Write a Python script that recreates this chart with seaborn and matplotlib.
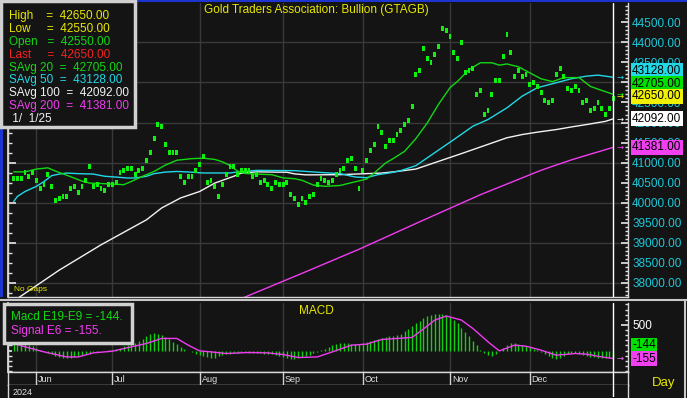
import numpy as np
import pandas as pd
import matplotlib
matplotlib.use("Agg")
import matplotlib.pyplot as plt
from matplotlib.patches import Rectangle
from matplotlib.lines import Line2D
from matplotlib.ticker import MultipleLocator, FixedLocator, FormatStrFormatter, NullFormatter
from matplotlib.transforms import blended_transform_factory
import seaborn as sns

# ---- values ----
dates = pd.bdate_range("2024-05-24", "2025-01-01")   # one bar per weekday, no gaps

price = [40600, 40600, 40600, 40750, 40650, 40750, 40550, 40350, 40450, 40700,
         40400, 40050, 40100, 40150, 40150, 40350, 40400, 40250, 40400, 40550,
         40900, 40400, 40450, 40350, 40300, 40450, 40450, 40500, 40750, 40800,
         40850, 40850, 40700, 40800, 40850, 41050, 41250, 41600, 41950, 41900,
         41450, 41250, 41250, 41250, 40650, 40500, 40650, 40650, 40800, 40950,
         41150, 40500, 40550, 40400, 40150, 40450, 40700, 40900, 40900, 40700,
         40800, 40800, 40800, 40650, 40700, 40500, 40550, 40450, 40350, 40500,
         40450, 40450, 40500, 40200, 40100, 39950, 40100, 40000, 40150, 40200,
         40450, 40600, 40550, 40500, 40550, 40700, 40800, 40850, 41050, 41100,
         40850, 40350, 40800, 41050, 41300, 41450, 41900, 41750, 41400, 41550,
         41550, 41700, 41800, 41950, 42050, 42400, 43200, 43300, 43850, 43600,
         43500, 43700, 43900, 44350, 44300, 44150, 43750, 43600, 44000, 43250,
         43300, 43350, 42700, 42800, 42200, 42300, 42700, 43050, 43050, 43650,
         44200, 43750, 43150, 43300, 43150, 43200, 42950, 43000, 42900, 42750,
         42550, 42500, 42550, 43200, 43350, 43150, 42850, 42800, 42900, 42800,
         42500, 42550, 42300, 42350, 42500, 42350, 42200, 42350, 42600]

sma20_at = [0, 3, 6, 9, 11, 13, 15, 18, 20, 24, 29, 31, 34, 37, 40, 43, 47, 50, 53, 55,
            57, 59, 61, 64, 68, 71, 74, 76, 79, 82, 86, 89, 93, 95, 98, 100, 103, 106, 109, 112,
            115, 117, 120, 123, 126, 128, 130, 133, 136, 139, 142, 145, 149, 152, 155, 158]
sma20 = [40770, 40770, 40840, 40870, 40790, 40720, 40650, 40540, 40490, 40475,
         40450, 40530, 40660, 40780, 40940, 41060, 41100, 41110, 41080, 41020,
         40930, 40790, 40730, 40715, 40700, 40620, 40600, 40560, 40440, 40410,
         40430, 40500, 40590, 40740, 40990, 41100, 41280, 41600, 41990, 42460,
         42870, 43030, 43320, 43490, 43490, 43430, 43460, 43390, 43240, 43090,
         43020, 43120, 43120, 42900, 42800, 42705]

sma50_at = [0, 1, 3, 6, 8, 10, 12, 14, 17, 21, 24, 27, 30, 32, 35, 37, 40, 43, 46, 50,
            53, 57, 59, 64, 74, 79, 86, 90, 93, 96, 99, 102, 106, 111, 116, 121, 125, 130, 134, 138,
            143, 147, 151, 154, 157, 158]
sma50 = [40030, 40160, 40280, 40410, 40530, 40675, 40715, 40740, 40725, 40715,
         40660, 40640, 40617, 40617, 40660, 40725, 40765, 40780, 40767, 40742,
         40742, 40742, 40767, 40807, 40800, 40767, 40725, 40642, 40625, 40700,
         40742, 40800, 40925, 41250, 41575, 41907, 42075, 42367, 42657, 42867,
         42992, 43092, 43157, 43182, 43142, 43128]

sma100_at = [0, 12, 23, 35, 39, 44, 49, 53, 58, 60, 64, 72, 74, 77, 86, 97, 101, 106, 118, 130,
             134, 138, 143, 147, 151, 156, 158]
sma100 = [37550, 38320, 38950, 39575, 39870, 40120, 40280, 40490, 40660, 40740,
          40770, 40760, 40720, 40695, 40700, 40740, 40780, 40840, 41225, 41620,
          41700, 41760, 41825, 41890, 41950, 42030, 42092]

sma200_at = [55, 61, 76, 91, 107, 123, 139, 147, 158]
sma200 = [37410, 37650, 38240, 38840, 39525, 40200, 40810, 41070, 41381]

macd_hist = [160, 150, 140, 120, 100, 80, 50, 20, -10, -40,
             -70, -100, -120, -140, -150, -150, -130, -110, -90, -60,
             -40, -30, -20, -10, -5, 10, 20, 40, 60, 80,
             100, 120, 150, 190, 230, 280, 320, 340, 330, 300,
             260, 220, 170, 120, 70, 30, 0, -30, -60, -90,
             -110, -130, -150, -140, -110, -90, -70, -60, -50, -40,
             -30, -30, -40, -40, -50, -50, -60, -60, -70, -80,
             -100, -120, -140, -160, -160, -150, -130, -110, -80, -50,
             -20, 10, 40, 70, 100, 120, 140, 150, 140, 130,
             120, 130, 150, 170, 190, 210, 230, 250, 270, 280,
             290, 300, 330, 380, 430, 480, 530, 580, 630, 670,
             700, 710, 715, 710, 690, 650, 600, 530, 450, 370,
             280, 190, 100, 20, -50, -90, -100, -60, 0, 60,
             110, 140, 150, 130, 110, 90, 70, 40, 10, -30,
             -70, -110, -150, -170, -140, -100, -70, -50, -50, -60,
             -80, -100, -120, -130, -140, -150, -150, -145, -144]

signal_at = [0, 3, 8, 14, 17, 21, 24, 26, 31, 35, 39, 43, 46, 49, 52, 56, 62, 67, 71, 75,
             80, 84, 89, 93, 97, 105, 107, 111, 114, 118, 121, 125, 128, 132, 135, 139, 143, 148, 151, 155,
             158]
signal = [139, 73, -25, -124, -124, -45, -25, -12, 73, 139,
          237, 237, 106, -6, -25, -57, -37, -45, -77, -135,
          -124, -25, 106, 126, 217, 257, 367, 596, 675, 596,
          433, 171, -6, 106, 86, 8, -90, -57, -70, -124,
          -155]

legend_rows = ["High    =  42650.00", "Low     =  42550.00", "Open   =  42550.00",
               "Last     =  42650.00", "SAvg 20  =  42705.00", "SAvg 50  =  43128.00",
               "SAvg 100  =  42092.00", "SAvg 200  =  41381.00", " 1/  1/25"]
last_values = [43128.0, 42705.0, 42650.0, 42092.0, 41381.0]
macd_last = [-144, -155]

# ---- colours ----
BG = "#141414"
GRID = "#393939"
YELLOW = "#e8e800"
GREEN = "#12d812"
BAR_GREEN = "#0ef00e"
CYAN = "#22d8e6"
WHITE = "#f2f2f2"
MAGENTA = "#f03cf0"
RED = "#f02222"
TICK_CYAN = "#1cc8d8"
legend_colors = [YELLOW, YELLOW, GREEN, RED, GREEN, CYAN, WHITE, MAGENTA, WHITE]
last_colors = [CYAN, "#00e000", "#f0f000", "#ffffff", "#f040f0"]
macd_last_colors = ["#00e000", "#f040f0"]

sns.set_theme(style="dark", rc={"axes.facecolor": BG, "figure.facecolor": BG})
plt.rcParams["font.family"] = ["Liberation Sans", "DejaVu Sans"]

W, H = 687, 398


def frame(left, top, right, bottom):
    return [left / W, 1 - bottom / H, (right - left) / W, (bottom - top) / H]


def stack(values, gap):
    # push value labels upward so their boxes do not overlap
    placed = list(values)
    prev = -np.inf
    for i in np.argsort(values):
        placed[i] = max(values[i], prev + gap)
        prev = placed[i]
    return placed


fig = plt.figure(figsize=(W / 100, H / 100), dpi=100)
ax = fig.add_axes(frame(8, 3, 628, 297))
axm = fig.add_axes(frame(8, 303, 628, 372))
axd = fig.add_axes(frame(8, 372, 628, 385))
axy = fig.add_axes(frame(8, 385, 628, 397))

idx = np.arange(len(dates))
month_pos = [i for i in range(1, len(dates) - 1) if dates[i].month != dates[i - 1].month]
xlim = (-1.5, 161.9)

for a in (ax, axm, axd, axy):
    a.set_facecolor(BG)
    a.set_xlim(xlim)
    a.set_xticks([])
    for s in a.spines.values():
        s.set_visible(True)
        s.set_color("#d8d8d8")
        s.set_linewidth(1)
    a.spines["top"].set_visible(False)
    a.axvline(idx[-1], color="white", lw=1, zorder=6)

# ---- price panel ----
for v in range(38000, 45000, 1000):
    ax.axhline(v, color=GRID, lw=1, zorder=0)
for m in month_pos:
    ax.axvline(m, color=GRID, lw=1, zorder=0)

sns.lineplot(x=sma200_at, y=sma200, ax=ax, color=MAGENTA, lw=1, zorder=2)
sns.lineplot(x=sma100_at, y=sma100, ax=ax, color=WHITE, lw=1, zorder=2)
sns.lineplot(x=sma50_at, y=sma50, ax=ax, color=CYAN, lw=1, zorder=2)
sns.lineplot(x=sma20_at, y=sma20, ax=ax, color=GREEN, lw=1, zorder=3)
ax.bar(idx, 120, bottom=np.array(price) - 60, width=0.75, color=BAR_GREEN, lw=0, zorder=4)

ax.set_ylim(37650, 44980)
ax.set_xlim(xlim)
ax.set_ylabel("")
ax.yaxis.tick_right()
ax.yaxis.set_major_locator(MultipleLocator(500))
ax.yaxis.set_minor_locator(MultipleLocator(100))
ax.yaxis.set_major_formatter(FormatStrFormatter("%.2f"))
ax.tick_params(axis="y", which="both", direction="in", right=True, left=False,
               labelright=True, labelleft=False, color="#e0e0e0", labelcolor=TICK_CYAN,
               labelsize=8.5, pad=3)
ax.tick_params(axis="y", which="major", length=5)
ax.tick_params(axis="y", which="minor", length=2.5)

left_ticks = ax.secondary_yaxis("left")
left_ticks.yaxis.set_major_locator(MultipleLocator(1000))
left_ticks.yaxis.set_minor_locator(MultipleLocator(250))
left_ticks.yaxis.set_major_formatter(NullFormatter())
left_ticks.tick_params(which="both", direction="in", left=True, color="#e0e0e0")
left_ticks.tick_params(which="major", length=6)
left_ticks.tick_params(which="minor", length=3)
left_ticks.spines["left"].set_color("#e0e0e0")

right_tr = blended_transform_factory(ax.transAxes, ax.transData)
for v, y, c in zip(last_values, stack(last_values, 320), last_colors):
    ax.text(1.0065, y, f"{v:.2f}", transform=right_tr, ha="left", va="center", fontsize=8.5,
            color="black", clip_on=False, zorder=10,
            bbox=dict(boxstyle="square,pad=0.12", fc=c, ec="none"))
    ax.text(159.8, v, "\u2192", ha="center", va="center", fontsize=6, color=c,
            family="DejaVu Sans", clip_on=False, zorder=7)

ax.text(0.01, 0.025, "No Gaps", transform=ax.transAxes, color=YELLOW, fontsize=6,
        ha="left", va="center")

# ---- MACD panel ----
for m in month_pos:
    axm.axvline(m, color=GRID, lw=1, zorder=0)
axm.vlines(idx, 0, macd_hist, color="#10d010", lw=1, zorder=2)
sns.lineplot(x=signal_at, y=signal, ax=axm, color=MAGENTA, lw=1, zorder=3)
axm.set_ylim(-418, 929)
axm.set_xlim(xlim)
axm.set_ylabel("")
axm.yaxis.tick_right()
axm.yaxis.set_major_locator(FixedLocator([500]))
axm.yaxis.set_minor_locator(MultipleLocator(100))
axm.yaxis.set_major_formatter(FormatStrFormatter("%d"))
axm.tick_params(axis="y", which="both", direction="in", right=True, left=False,
                labelright=True, labelleft=False, color="#e0e0e0", labelcolor="white",
                labelsize=8.5, pad=3)
axm.tick_params(axis="y", which="major", length=5)
axm.tick_params(axis="y", which="minor", length=2.5)
macd_left = axm.secondary_yaxis("left")
macd_left.yaxis.set_major_locator(MultipleLocator(500))
macd_left.yaxis.set_minor_locator(MultipleLocator(100))
macd_left.yaxis.set_major_formatter(NullFormatter())
macd_left.tick_params(which="both", direction="in", left=True, color="#e0e0e0", length=3)
macd_left.spines["left"].set_color("#e0e0e0")

macd_tr = blended_transform_factory(axm.transAxes, axm.transData)
for v, y, c in zip(macd_last, stack(macd_last, 255), macd_last_colors):
    axm.text(1.0065, y, f"{v}", transform=macd_tr, ha="left", va="center", fontsize=8.5,
             color="black", clip_on=False, zorder=10,
             bbox=dict(boxstyle="square,pad=0.12", fc=c, ec="none"))
    axm.text(159.8, v, "\u2192", ha="center", va="center", fontsize=6, color=c,
             family="DejaVu Sans", clip_on=False, zorder=7)

# ---- date strips ----
axd.set_ylim(0, 1)
axd.set_yticks([])
axd.spines["top"].set_visible(True)
axd.vlines(month_pos, 0, 1, color="#d0d0d0", lw=1)
for m in month_pos:
    axd.text(m + 0.5, 0.42, dates[m].strftime("%b"), color="#e0e0e0", fontsize=6.5,
             ha="left", va="center", family=["Liberation Sans Narrow", "Liberation Sans"])
axy.set_ylim(0, 1)
axy.set_yticks([])
axy.spines["bottom"].set_visible(False)
axy.text(0.008, 0.4, str(dates[0].year), transform=axy.transAxes, color="#e0e0e0",
         fontsize=6.5, ha="left", va="center", family=["Liberation Sans Narrow", "Liberation Sans"])

# ---- figure furniture ----
fig.text(316 / W, 1 - 10 / H, "Gold Traders Association: Bullion (GTAGB)", color=YELLOW,
         fontsize=8.5, ha="center", va="center")
fig.text(316 / W, 1 - 311 / H, "MACD", color=YELLOW, fontsize=8.5, ha="center", va="center")
fig.text(652 / W, 1 - 383 / H, "Day", color=YELLOW, fontsize=9.5, ha="left", va="center")

fig.add_artist(Rectangle((0, 1 - 297 / H), 3 / W, 297 / H, transform=fig.transFigure,
                         fc="#1c34d0", ec="none", zorder=4))
fig.add_artist(Rectangle((0, 1 - 2 / H), 1, 2 / H, transform=fig.transFigure,
                         fc="#1c34d0", ec="none", zorder=4))
fig.add_artist(Line2D([0, 1], [1 - 299.5 / H] * 2, transform=fig.transFigure,
                      color="#c8c8c8", lw=1.5, zorder=4))
fig.add_artist(Line2D([685 / W] * 2, [0, 1 - 300 / H], transform=fig.transFigure,
                      color="#c8c8c8", lw=1.5, zorder=4))

# price legend box
fig.add_artist(Rectangle((1 / W, 1 - 127 / H), 134 / W, 126 / H, transform=fig.transFigure,
                         fc=BG, ec="#d0d0d0", lw=2.5, zorder=5))
for i, (row, c) in enumerate(zip(legend_rows, legend_colors)):
    fig.text(9 / W, 1 - (15.7 + 12.95 * i) / H, row, color=c, fontsize=8.5,
             ha="left", va="center", zorder=6)

# MACD legend box
fig.add_artist(Rectangle((4 / W, 1 - 343 / H), 128 / W, 39 / H, transform=fig.transFigure,
                         fc=BG, ec="#d0d0d0", lw=2.5, zorder=5))
fig.text(11 / W, 1 - 317 / H, f"Macd E19-E9 = {macd_last[0]}.", color=GREEN, fontsize=8.5,
         ha="left", va="center", zorder=6)
fig.text(11 / W, 1 - 331 / H, f"Signal E6 = {macd_last[1]}.", color=MAGENTA, fontsize=8.5,
         ha="left", va="center", zorder=6)

fig.savefig("out.png", dpi=100, facecolor=BG)
